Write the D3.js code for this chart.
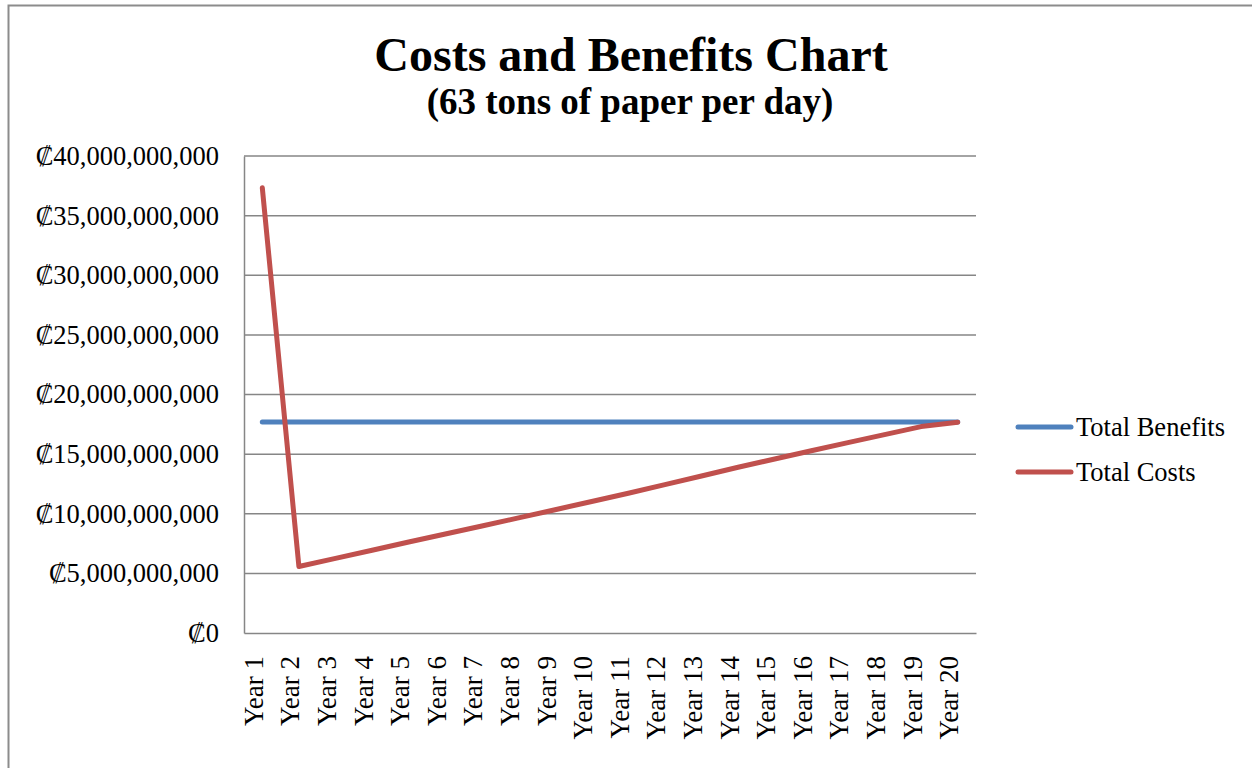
<!DOCTYPE html>
<html>
<head>
<meta charset="utf-8">
<script src="https://cdn.jsdelivr.net/npm/d3@7"></script>
<style>
  body { margin: 0; background: #fff; }
  svg { display: block; }
  svg text { font-family: "Liberation Serif", "Times New Roman", "DejaVu Serif", serif; }
</style>
</head>
<body>
<svg id="chart" width="1252" height="768"></svg>
<script>
// Dati (valori in colón)
const years = ["Year 1", "Year 2", "Year 3", "Year 4", "Year 5", "Year 6", "Year 7",
  "Year 8", "Year 9", "Year 10", "Year 11", "Year 12", "Year 13", "Year 14",
  "Year 15", "Year 16", "Year 17", "Year 18", "Year 19", "Year 20"];

const totalBenefits = [17.7e9, 17.7e9, 17.7e9, 17.7e9, 17.7e9, 17.7e9, 17.7e9,
  17.7e9, 17.7e9, 17.7e9, 17.7e9, 17.7e9, 17.7e9, 17.7e9,
  17.7e9, 17.7e9, 17.7e9, 17.7e9, 17.7e9, 17.7e9];

const totalCosts = [37.33e9, 5.58e9, 6.26e9, 6.94e9, 7.63e9, 8.30e9, 8.97e9,
  9.65e9, 10.34e9, 11.03e9, 11.72e9, 12.44e9, 13.17e9, 13.90e9,
  14.59e9, 15.28e9, 15.96e9, 16.64e9, 17.31e9, 17.68e9];

const yTicks = [0, 5e9, 10e9, 15e9, 20e9, 25e9, 30e9, 35e9, 40e9];

const seriesNames = ["Total Benefits", "Total Costs"];
const seriesColors = ["#4F81BD", "#C0504D"];

/*
* Area del grafico
*/
const plot = { left: 244, right: 976, top: 156, bottom: 633 };
const serif = "'Liberation Serif', 'Times New Roman', serif";

const svg = d3.select("#chart");

// cornice esterna
svg.append("rect")
  .attr("x", 8.5).attr("y", 5.5)
  .attr("width", 1260).attr("height", 800)
  .attr("fill", "none")
  .attr("stroke", "#8c8c8c")
  .attr("stroke-width", 2);

const x = d3.scaleBand()
  .domain(years)
  .range([plot.left, plot.right]);

const y = d3.scaleLinear()
  .domain([0, 40e9])
  .range([plot.bottom, plot.top]);

const fmt = v => "\u20A1" + d3.format(",")(v);

// griglia orizzontale
svg.append("g")
  .selectAll("line")
  .data(yTicks.filter(t => t > 0))
  .enter()
  .append("line")
  .attr("x1", plot.left).attr("x2", plot.right)
  .attr("y1", d => y(d)).attr("y2", d => y(d))
  .style("stroke", "#868686")
  .style("stroke-width", 1.5);

// asse y
const yAxis = svg.append("g")
  .attr("transform", `translate(${plot.left},0)`)
  .call(d3.axisLeft(y).tickValues(yTicks).tickFormat(fmt).tickSize(0).tickPadding(25));
yAxis.attr("font-family", serif).attr("font-size", 26.5);
yAxis.select(".domain").style("stroke", "#868686").style("stroke-width", 1.5);
yAxis.selectAll("text")
  .attr("fill", "#000");

// asse x
const xAxis = svg.append("g")
  .attr("transform", `translate(0,${plot.bottom})`)
  .call(d3.axisBottom(x).tickSize(0).tickSizeOuter(0));
xAxis.attr("font-family", serif).attr("font-size", 27);
xAxis.select(".domain").style("stroke", "#868686").style("stroke-width", 1.5);
xAxis.selectAll("text")
  .attr("fill", "#000")
  .attr("text-anchor", "end")
  .attr("transform", "rotate(-90)")
  .attr("x", -23)
  .attr("y", 0)
  .attr("dy", "0.02em");

// linee delle serie
const line = d3.line()
  .x((d, i) => x(years[i]) + x.bandwidth() / 2)
  .y(d => y(d));

[totalBenefits, totalCosts].forEach((values, k) => {
  svg.append("path")
    .datum(values)
    .attr("d", line)
    .attr("fill", "none")
    .attr("stroke", seriesColors[k])
    .attr("stroke-width", 5)
    .attr("stroke-linecap", "round")
    .attr("stroke-linejoin", "round");
});

// legenda
const legend = svg.append("g")
  .selectAll("g")
  .data(seriesNames)
  .enter()
  .append("g")
  .attr("transform", (d, i) => `translate(1018, ${427 + i * 45})`);

legend.append("line")
  .attr("x1", 0).attr("x2", 53)
  .attr("y1", 0).attr("y2", 0)
  .attr("stroke", (d, i) => seriesColors[i])
  .attr("stroke-width", 5)
  .attr("stroke-linecap", "round");

legend.append("text")
  .attr("x", 58)
  .attr("y", 9)
  .style("font-size", "26.5px")
  .text(d => d);

// titolo
svg.append("text")
  .attr("x", 631).attr("y", 71)
  .attr("text-anchor", "middle")
  .style("font-size", "48px")
  .style("font-weight", "bold")
  .text("Costs and Benefits Chart");

svg.append("text")
  .attr("x", 630).attr("y", 114)
  .attr("text-anchor", "middle")
  .style("font-size", "37px")
  .style("font-weight", "bold")
  .text("(63 tons of paper per day)");
</script>
</body>
</html>
